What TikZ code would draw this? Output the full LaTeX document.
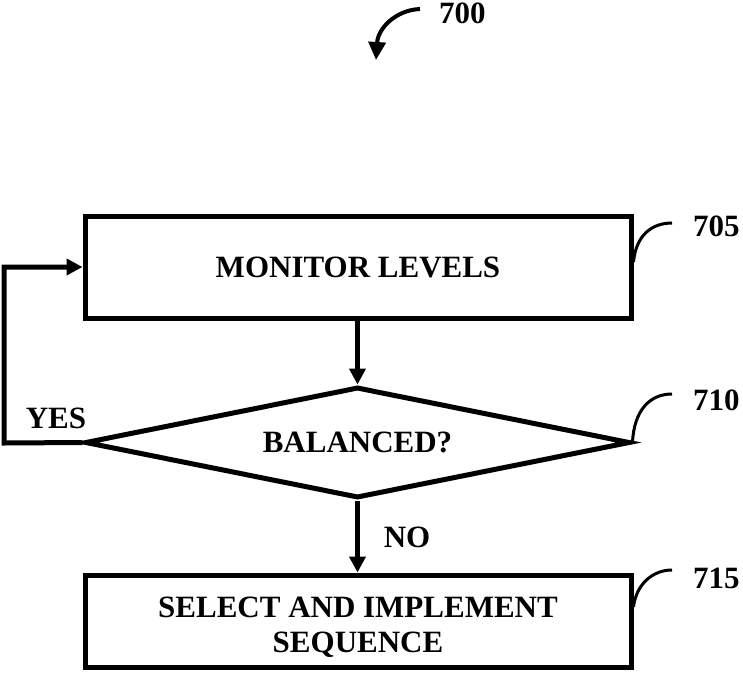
\documentclass[tikz,border=0pt]{standalone}
\usepackage{fontspec}
\setmainfont{Liberation Serif}
\usetikzlibrary{shapes.geometric,arrows.meta}
\tikzset{
  lbl/.style={font=\fontsize{31}{35}\selectfont\bfseries, inner sep=0pt},
  stepbox/.style={draw, line width=5pt, rectangle, inner sep=0pt, align=center, font=\fontsize{31}{35}\selectfont\bfseries},
  decision/.style={draw, line width=5pt, diamond, aspect=4.9, inner sep=0pt, font=\fontsize{31}{35}\selectfont\bfseries},
  flow/.style={line width=5pt, -{Triangle[length=16pt,width=16pt]}},
  leader/.style={line width=3pt},
}
\begin{document}
\begin{tikzpicture}[x=1pt,y=-1pt]
\useasboundingbox (0,0) rectangle (743,677);
\node[stepbox, minimum width=546pt, minimum height=102pt] (b1) at (358,267) {MONITOR LEVELS};
\node[decision, minimum width=545pt, minimum height=111pt] (d1) at (357.5,442.5) {BALANCED?};
\node[stepbox, minimum width=546pt, minimum height=92pt] (b2) at (358,621) {};
\node[lbl, align=center] (t2) at (358,627) {SELECT AND IMPLEMENT\\SEQUENCE};
\draw[flow] (b1.south -| d1.north) -- (d1.north);
\draw[flow] (d1.south) -- (d1.south |- b2.north);
\coordinate (lp) at (4,443);
\draw[flow, line join=miter] (d1.west) -- (lp) |- (b1.west);
\node[lbl] (yes) at (56,418) {YES};
\node[lbl] (no) at (407,537) {NO};
% reference numerals
\node[lbl, anchor=west] (n700) at (439,13) {700};
\node[lbl, anchor=west] (n705) at (693,226) {705};
\node[lbl, anchor=west] (n710) at (693,400) {710};
\node[lbl, anchor=west] (n715) at (693,578) {715};
\coordinate (c705) at (672,223);
\coordinate (c710) at (672,394);
\coordinate (c715) at (672,570);
\draw[leader] (b1.east |- 0,262) .. controls (636,235) and (652,223) .. (c705);
\draw[leader] (d1.east) .. controls (634,410) and (650,394) .. (c710);
\draw[leader] (b2.east |- 0,607) .. controls (636,585) and (652,570) .. (c715);
\coordinate (a0) at (420,9);
\coordinate (a1) at (376,60);
\draw[line width=4pt, -{Triangle[length=18pt,width=17pt]}] (a0) .. controls (396,10) and (378,28) .. (a1);
\end{tikzpicture}
\end{document}
